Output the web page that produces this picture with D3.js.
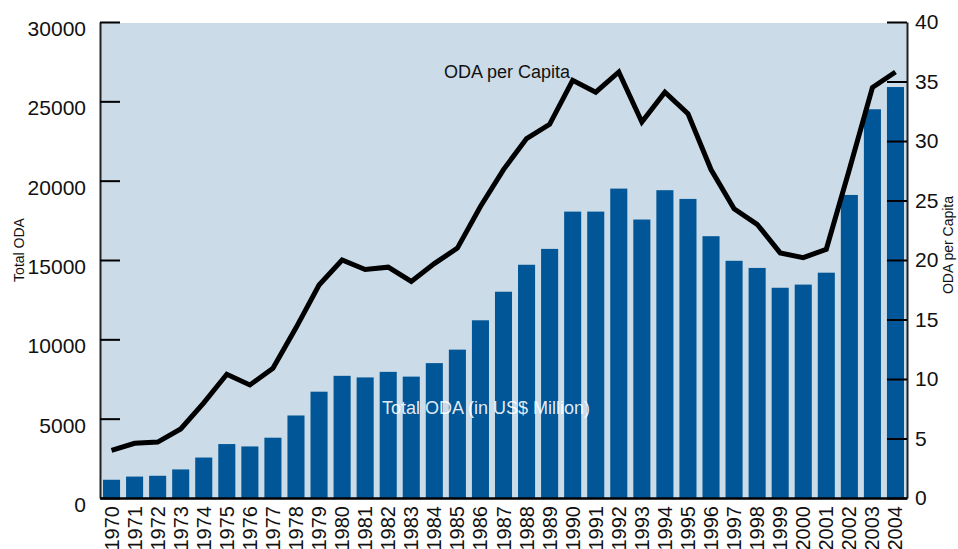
<!DOCTYPE html>
<html><head><meta charset="utf-8">
<script src="https://cdn.jsdelivr.net/npm/d3@7/dist/d3.min.js"></script>
<style>body{margin:0;background:#fff;}svg{display:block;font-family:"Liberation Sans",Arial,Helvetica,sans-serif;}</style>
</head><body><svg id="c" width="958" height="549"></svg>
<script>
const years = ["1970","1971","1972","1973","1974","1975","1976","1977","1978","1979","1980","1981","1982","1983","1984","1985","1986","1987","1988","1989","1990","1991","1992","1993","1994","1995","1996","1997","1998","1999","2000","2001","2002","2003","2004"];
const totalODA = [1150,1350,1400,1800,2550,3400,3250,3800,5200,6700,7700,7600,7950,7650,8500,9350,11200,13000,14700,15700,18050,18050,19500,17550,19400,18850,16500,14950,14500,13250,13450,14200,19100,24500,25900];
const perCapita = [4.0,4.6,4.7,5.8,8.0,10.4,9.5,10.9,14.3,17.9,20.0,19.2,19.4,18.2,19.7,21.0,24.5,27.6,30.2,31.4,35.1,34.1,35.8,31.6,34.1,32.3,27.6,24.3,23.0,20.6,20.2,20.9,27.6,34.5,35.8];
const leftTicks = [0,5000,10000,15000,20000,25000,30000];
const rightTicks = [0,5,10,15,20,25,30,35,40];

const svg = d3.select("#c");
const L = 100, R = 907, T = 22, B = 498;
const x = d3.scaleBand().domain(years).range([L, R]).paddingInner(0.26).paddingOuter(0.13);
const yL = d3.scaleLinear().domain([0, 30000]).range([B, T]);
const yR = d3.scaleLinear().domain([0, 40]).range([B, T]);

svg.append("rect").attr("x", L).attr("y", T + 1).attr("width", R - L).attr("height", B - T - 1).attr("fill", "#cbdce8");

svg.append("g").selectAll("rect").data(totalODA).join("rect")
  .attr("x", (d, i) => x(years[i])).attr("width", x.bandwidth())
  .attr("y", d => yL(d)).attr("height", d => B - yL(d)).attr("fill", "#005696");

svg.append("path").datum(perCapita)
  .attr("d", d3.line().x((d, i) => x(years[i]) + x.bandwidth() / 2).y(d => yR(d)))
  .attr("fill", "none").attr("stroke", "#000").attr("stroke-width", 5).attr("stroke-linejoin", "miter");

// left axis
const gl = svg.append("g").attr("transform", `translate(${L},0)`)
  .call(d3.axisLeft(yL).tickValues(leftTicks).tickSizeInner(-20).tickSizeOuter(0).tickPadding(14).tickFormat(d3.format("d")));
gl.select(".domain").attr("stroke", "#222").attr("stroke-width", 2);
gl.selectAll(".tick line").attr("stroke", "#000").attr("stroke-width", 2);
gl.selectAll(".tick text").attr("font-size", 21).attr("fill", "#111").attr("font-family", "Liberation Sans, Arial, sans-serif")
  .attr("dy", "0.65em");

// right axis
const gr = svg.append("g").attr("transform", `translate(${R},0)`)
  .call(d3.axisRight(yR).tickValues(rightTicks).tickSizeInner(-20).tickSizeOuter(0).tickPadding(8));
gr.select(".domain").attr("stroke", "#222").attr("stroke-width", 2);
gr.selectAll(".tick line").attr("stroke", "#000").attr("stroke-width", 2);
gr.selectAll(".tick text").attr("font-size", 21).attr("fill", "#111").attr("font-family", "Liberation Sans, Arial, sans-serif");

// bottom axis
const gb = svg.append("g").attr("transform", `translate(0,${B})`)
  .call(d3.axisBottom(x).tickSize(0).tickPadding(8));
gb.select(".domain").attr("stroke", "#000").attr("stroke-width", 2.5);
gb.selectAll(".tick text").attr("font-size", 20).attr("fill", "#111")
  .attr("font-family", "Liberation Sans, Arial, sans-serif")
  .attr("transform", "rotate(-90)").attr("text-anchor", "end")
  .attr("dy", "0.35em").attr("x", -8).attr("y", 0);

// axis titles
svg.append("text").attr("transform", "translate(24,250) rotate(-90)").attr("text-anchor", "middle")
  .attr("font-size", 14).attr("fill", "#111").text("Total ODA");
svg.append("text").attr("transform", "translate(953,245) rotate(-90)").attr("text-anchor", "middle")
  .attr("font-size", 14).attr("fill", "#111").text("ODA per Capita");

// series labels
svg.append("text").attr("x", 507).attr("y", 78).attr("text-anchor", "middle")
  .attr("font-size", 18).attr("fill", "#111").text("ODA per Capita");
svg.append("text").attr("x", 486).attr("y", 414).attr("text-anchor", "middle")
  .attr("font-size", 18).attr("fill", "#ffffff").attr("fill-opacity", 0.9).text("Total ODA (in US$ Million)");
</script></body></html>
